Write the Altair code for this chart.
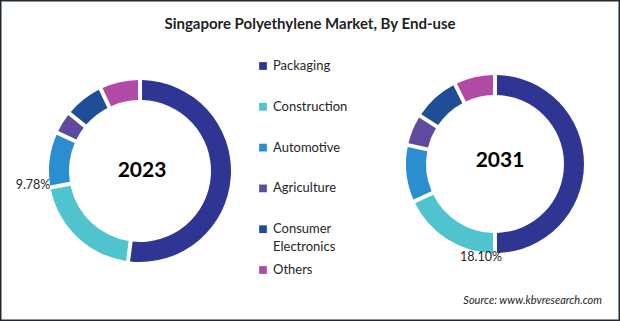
import altair as alt
import pandas as pd

categories = ["Packaging", "Construction", "Automotive", "Agriculture",
              "Consumer Electronics", "Others"]
legend_labels = ["Packaging", "Construction", "Automotive", "Agriculture",
                 "Consumer\nElectronics", "Others"]
colors = ["#2E3592", "#4FC3CE", "#2A8ED0", "#5F4A9F", "#1F4E96", "#B04AA5"]
years = ["2023", "2031"]
share_2023 = [52.1, 20.0, 9.78, 4.0, 7.0, 7.12]
share_2031 = [50.0, 18.10, 10.3, 5.7, 8.5, 7.4]
shown_labels = ["9.78%", "18.10%"]

title_text = "Singapore Polyethylene Market, By End-use"
source_text = "Source: www.kbvresearch.com"
FONT = "Lato"

rows = []
for yr, vals in zip(years, [share_2023, share_2031]):
    for i, (c, v) in enumerate(zip(categories, vals)):
        rows.append({"year": yr, "category": c, "value": v, "idx": i})
df = pd.DataFrame(rows)
leg = pd.DataFrame({"category": categories, "label": legend_labels})

color_scale = alt.Scale(domain=categories, range=colors)

def donut(year, cx, cy, r_out, r_in):
    return alt.Chart(df).transform_filter(
        alt.datum.year == year
    ).mark_arc(outerRadius=r_out, innerRadius=r_in, padAngle=0.035).encode(
        theta=alt.Theta("value:Q", stack=True, scale=alt.Scale(type="linear")),
        order=alt.Order("idx:Q"),
        color=alt.Color("category:N", scale=color_scale, legend=None),
        x=alt.value(cx),
        y=alt.value(cy),
    )

def text(txt, x, y, size, weight="normal", style="normal", align="center", color="#1f1f1f"):
    return alt.Chart(pd.DataFrame({"t": [txt]})).mark_text(
        font=FONT, fontSize=size, fontWeight=weight, fontStyle=style,
        align=align, baseline="middle", color=color
    ).encode(text="t:N", x=alt.value(x), y=alt.value(y))

d1 = donut(years[0], 140, 171, 91, 71)
d2 = donut(years[1], 495, 164, 89, 69)

ys = alt.Y("category:N", scale=alt.Scale(type="point", domain=categories,
                                         range=[66, 270], padding=0), axis=None)
leg_sq = alt.Chart(leg).mark_square(size=60, opacity=1).encode(
    x=alt.value(263), y=ys,
    color=alt.Color("category:N", scale=color_scale, legend=None),
)
leg_txt = alt.Chart(leg).mark_text(
    font=FONT, fontSize=13, align="left", baseline="top", dy=-6,
    lineBreak="\n", lineHeight=18, color="#262626"
).encode(x=alt.value(273), y=ys, text="label:N")

layers = [
    d1, d2, leg_sq, leg_txt,
    text(title_text, 310, 24, 15, weight="bold"),
    text(years[0], 142, 171, 21, weight="bold", color="#000000"),
    text(years[1], 500, 161, 21, weight="bold", color="#000000"),
    text(shown_labels[0], 33, 185, 12.5, color="#262626"),
    text(shown_labels[1], 481, 257, 12.5, color="#262626"),
    text(source_text, 602, 301, 11, style="italic", align="right", color="#262626"),
]

chart = alt.layer(*layers).resolve_scale(theta="independent").properties(
    width=620, height=321,
    autosize=alt.AutoSizeParams(type="none"),
    padding=0,
    background="white",
).configure_view(stroke="#1E2B35", strokeWidth=3)

chart.save("out.html", embed_options={"renderer": "svg", "actions": False})
